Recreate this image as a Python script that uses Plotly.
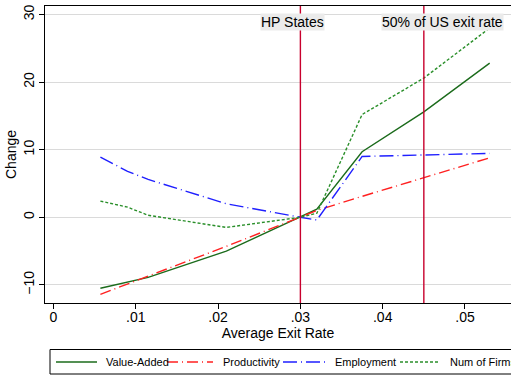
import plotly.graph_objects as go

# ---- data ----
exit_rate = [0.0057, 0.009, 0.0115, 0.021, 0.030, 0.032, 0.0375, 0.045, 0.053]
value_added = [-10.5, -9.6, -8.9, -5.0, 0.0, 1.2, 9.7, 15.6, 22.8]
productivity = [-11.4, -9.9, -8.7, -4.3, 0.0, 1.0, 3.1, 5.9, 8.8]
employment = [8.9, 6.8, 5.6, 2.0, 0.0, -0.4, 9.0, 9.2, 9.45]
num_firms = [2.4, 1.5, 0.3, -1.5, 0.0, 0.6, 15.2, 20.6, 28.0]

ref_lines = [0.030, 0.045]
ref_labels = ["HP States", "50% of US exit rate"]
ref_label_x = [0.0290, 0.0473]

x_ticks = [0, 0.01, 0.02, 0.03, 0.04, 0.05]
x_ticktext = ["0", ".01", ".02", ".03", ".04", ".05"]
y_ticks = [-10, 0, 10, 20, 30]

series_names = ["Value-Added", "Productivity", "Employment", "Num of Firms"]
series_values = [value_added, productivity, employment, num_firms]
series_colors = ["#1b6b1b", "#ff2020", "#1f1fff", "#2a8f2a"]
series_dash = ["solid", "11px,4px,1px,4px", "14px,4px,1px,4px", "3px,2px"]

FONT = "Liberation Sans, Arial, Helvetica, sans-serif"
W, H = 511, 377
ML, MR, MT, MB = 45, 0, 6, 74

fig = go.Figure()
for name, vals, col, dash in zip(series_names, series_values, series_colors, series_dash):
    fig.add_trace(go.Scatter(x=exit_rate, y=vals, mode="lines", name=name,
                             line=dict(color=col, width=1.4, dash=dash),
                             showlegend=False, hoverinfo="skip"))

shapes = []
for xv in ref_lines:
    shapes.append(dict(type="line", xref="x", yref="paper", x0=xv, x1=xv, y0=0, y1=1,
                       line=dict(color="#c8002d", width=1.4), layer="above"))

annotations = []
for lbl, lx in zip(ref_labels, ref_label_x):
    annotations.append(dict(text=lbl, x=lx, xref="x", y=1, yref="paper", yanchor="top",
                            yshift=-7, showarrow=False, bgcolor="#ebebeb", borderpad=0,
                            font=dict(family=FONT, size=14, color="black")))

# manual legend box (cropped at right edge like the reference)
pw = W - ML - MR
ph = H - MT - MB
def px_x(p):
    return (p - ML) / pw
def px_y(p):
    return (H - MB - p) / ph

shapes.append(dict(type="rect", xref="paper", yref="paper",
                   x0=px_x(50), x1=px_x(530), y0=px_y(374), y1=px_y(349.5),
                   line=dict(color="black", width=1), fillcolor="white", layer="above"))
sample_x = [(56, 97), (167, 213), (283, 325), (400, 440)]
text_x = [104, 221, 333, 448]
for (a, b), tx, name, col, dash in zip(sample_x, text_x, series_names, series_colors, series_dash):
    shapes.append(dict(type="line", xref="paper", yref="paper", x0=px_x(a), x1=px_x(b),
                       y0=px_y(362), y1=px_y(362), line=dict(color=col, width=1.4, dash=dash),
                       layer="above"))
    annotations.append(dict(text=name, xref="paper", yref="paper", x=px_x(tx), y=px_y(362),
                            xanchor="left", yanchor="middle", showarrow=False,
                            font=dict(family=FONT, size=11, color="black")))

fig.update_layout(
    width=W, height=H,
    margin=dict(l=ML, r=MR, t=MT, b=MB),
    paper_bgcolor="white", plot_bgcolor="white",
    font=dict(family=FONT, size=14, color="black"),
    shapes=shapes, annotations=annotations,
    xaxis=dict(range=[-0.00103, 0.05559], tickvals=x_ticks, ticktext=x_ticktext,
               showgrid=False, zeroline=False, showline=True, linecolor="black", linewidth=1,
               mirror=True, ticks="outside", ticklen=5, tickcolor="black",
               tickfont=dict(size=14), ticklabelstandoff=-4,
               title=dict(text="Average Exit Rate", font=dict(size=14), standoff=4)),
    yaxis=dict(range=[-12.68, 31.26], tickvals=y_ticks, tickangle=-90,
               showgrid=True, gridcolor="#dadada", gridwidth=1, zeroline=False,
               showline=True, linecolor="black", linewidth=1, mirror=False,
               ticks="outside", ticklen=5, tickcolor="black", tickfont=dict(size=14),
               ticklabelstandoff=-1,
               title=dict(text="Change", font=dict(size=14), standoff=1)),
)

fig.write_html("out.html", config={"displayModeBar": False},
               post_script="document.body.style.margin='0';document.body.style.overflow='hidden';")
